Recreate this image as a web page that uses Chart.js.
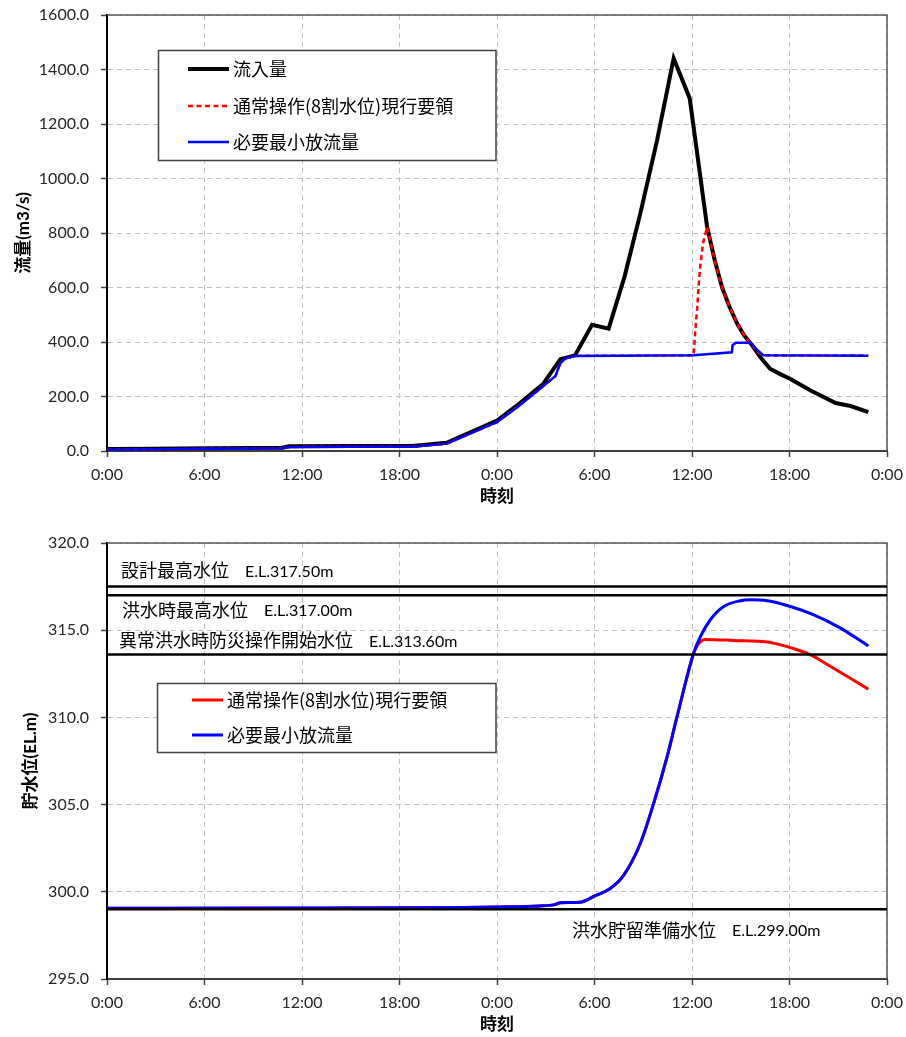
<!DOCTYPE html>
<html lang="ja">
<head>
<meta charset="utf-8">
<title>流量・貯水位</title>
<script src="https://cdn.jsdelivr.net/npm/chart.js@4.4.1/dist/chart.umd.min.js"></script>
<style>
  html, body { margin: 0; padding: 0; background: #fff; }
  #wrap { position: relative; width: 906px; height: 1037px; }
  canvas { position: absolute; left: 0; }
  #flowChart { top: 0; }
  #levelChart { top: 520px; }
</style>
</head>
<body>
<div id="wrap">
  <canvas id="flowChart" width="906" height="520"></canvas>
  <canvas id="levelChart" width="906" height="517"></canvas>
</div>
<script>
// ---- data (time in hours from the first 0:00) ----
const timeLabels = ['0:00', '6:00', '12:00', '18:00', '0:00', '6:00', '12:00', '18:00', '0:00'];
const timeStep = 6;

const flowTicks = [0, 200, 400, 600, 800, 1000, 1200, 1400, 1600];
const levelTicks = [295, 300, 305, 310, 315, 320];

// 流入量
const inflowT = [0, 3, 6, 9, 10.8, 11.2, 15, 18.8, 20.9, 24.0, 25.4, 26.85, 27.9, 28.8,
  29.85, 30.87, 31.85, 32.82, 33.85, 34.87, 35.86, 36.93, 37.4, 37.85, 38.3, 38.78, 39.2,
  39.7, 40.2, 40.8, 41.4, 42.06, 43.3, 44.84, 45.76, 46.85];
const inflowQ = [7, 8, 10, 11, 12, 17, 18, 18, 30, 112, 175, 247, 337, 351,
  463, 449, 640, 872, 1140, 1441, 1294, 822, 700, 600, 530, 468, 425,
  388, 345, 302, 283, 264, 222, 176, 165, 143];

// 通常操作(8割水位)現行要領 - outflow
const normalT = [0, 3, 6, 9, 10.8, 11.2, 15, 18.8, 20.9, 24.0, 25.4, 26.85, 27.6, 27.75, 27.9, 28.2, 28.8,
  36.1, 36.2, 36.31, 36.48, 36.68, 36.93, 37.4, 37.85, 38.3, 38.78, 39.2, 39.7, 40.0, 40.4, 46.85];
const normalQ = [5, 6, 8, 9, 10, 15, 16, 16, 27, 106, 168, 238, 275, 300, 322, 340, 349,
  351, 440, 517, 664, 762, 822, 700, 600, 530, 468, 425, 388, 365, 351, 350];

// 必要最小放流量 - outflow
const minRelT = [0, 3, 6, 9, 10.8, 11.2, 15, 18.8, 20.9, 24.0, 25.4, 26.85, 27.6, 27.75, 27.9, 28.2, 28.8,
  36.1, 38.45, 38.5, 38.7, 39.6, 40.0, 40.4, 46.85];
const minRelQ = [5, 6, 8, 9, 10, 15, 16, 16, 27, 106, 168, 238, 275, 300, 322, 340, 349,
  351, 362, 388, 397, 397, 372, 351, 350];

// 貯水位 - 必要最小放流量
const minRelLevelT = [0, 12, 18, 22, 24, 26.6, 27.5, 27.9, 29.1, 30.05, 30.97, 31.79, 32.82, 33.64,
  34.47, 35.08, 36.1, 36.52, 37.13, 37.95, 38.98, 39.6, 40.63, 42.06, 43.5, 45.14, 46.85];
const minRelLevelH = [299.06, 299.07, 299.08, 299.1, 299.13, 299.19, 299.25, 299.37, 299.4, 299.78, 300.19, 300.94, 302.77, 305.07,
  307.75, 310.04, 313.68, 314.64, 315.6, 316.36, 316.69, 316.74, 316.69, 316.36, 315.88, 315.12, 314.1];

// 貯水位 - 通常操作
const normalLevelT = [0, 12, 18, 22, 24, 26.6, 27.5, 27.9, 29.1, 30.05, 30.97, 31.79, 32.82, 33.64,
  34.47, 35.08, 36.1, 36.35, 36.6, 36.83, 38.57, 40.63, 41.45, 42.06, 43.3, 44.53, 46.85];
const normalLevelH = [299.06, 299.07, 299.08, 299.1, 299.13, 299.19, 299.25, 299.37, 299.4, 299.78, 300.19, 300.94, 302.77, 305.07,
  307.75, 310.04, 313.68, 314.15, 314.4, 314.47, 314.41, 314.32, 314.16, 314.0, 313.59, 312.92, 311.62];

// 基準水位
const refLevels = [317.5, 317.0, 313.6, 299.0];
const refNames = ['設計最高水位', '洪水時最高水位', '異常洪水時防災操作開始水位', '洪水貯留準備水位'];
const refElev = ['E.L.317.50m', 'E.L.317.00m', 'E.L.313.60m', 'E.L.299.00m'];

// ---- helpers ----
const pts = (xs, ys) => xs.map((x, i) => ({ x: x, y: ys[i] }));
const LATIN = 'Lato, "Noto Sans CJK JP", sans-serif';
const JP = '"Noto Sans CJK JP", sans-serif';

Chart.defaults.font.family = LATIN;
Chart.defaults.color = '#262626';

const timeAxis = (height, titlePad) => ({
  type: 'linear',
  min: 0,
  max: (timeLabels.length - 1) * timeStep,
  afterFit: s => {
    s.height = height;
    // keep the plot edges where the layout padding puts them
    s.paddingLeft = 0;
    s.paddingRight = 0;
  },
  ticks: {
    stepSize: timeStep,
    autoSkip: false,
    maxRotation: 0,
    padding: 8,
    font: { size: 16 },
    callback: v => timeLabels[Math.round(v / timeStep)]
  },
  grid: { color: '#c0c0c0', lineWidth: 1, tickLength: 6, tickColor: '#404040', tickWidth: 1.5 },
  border: { display: true, color: '#404040', width: 2, dash: [5, 4] },
  title: { display: true, text: '時刻', font: { size: 17, weight: 'bold' }, color: '#000', padding: { top: 0, bottom: titlePad } }
});

const valueAxis = (ticks, title, titlePad) => ({
  type: 'linear',
  min: ticks[0],
  max: ticks[ticks.length - 1],
  afterFit: s => {
    s.width = 107;
    s.paddingTop = 0;
    s.paddingBottom = 0;
  },
  ticks: {
    stepSize: ticks[1] - ticks[0],
    padding: 12,
    font: { size: 16 },
    callback: v => v.toFixed(1)
  },
  grid: { color: '#c0c0c0', lineWidth: 1, tickLength: 6, tickColor: '#404040', tickWidth: 1.5 },
  border: { display: true, color: '#000', width: 2, dash: [5, 4] },
  title: { display: true, text: title, font: { size: 17, weight: 'bold' }, color: '#000', padding: { top: titlePad, bottom: 0 } }
});

// frame, in-plot legend box and level notes
const overlay = {
  id: 'overlay',
  beforeDatasetsDraw(chart) {
    const { ctx, chartArea: a } = chart;
    ctx.save();
    ctx.strokeStyle = '#595959';
    ctx.lineWidth = 1.5;
    ctx.beginPath();
    ctx.moveTo(a.left, a.top);
    ctx.lineTo(a.right, a.top);
    ctx.lineTo(a.right, a.bottom);
    ctx.stroke();
    ctx.restore();
  },
  afterDatasetsDraw(chart, args, opts) {
    const { ctx, chartArea: a } = chart;
    const y = chart.scales.y;
    ctx.save();
    ctx.textBaseline = 'middle';
    ctx.fillStyle = '#000';

    (opts.notes || []).forEach(n => {
      const ty = y.getPixelForValue(refLevels[n.i]) + n.dy;
      const tx = a.left + n.dx;
      ctx.font = '18px ' + JP;
      ctx.fillText(refNames[n.i], tx, ty);
      const w = ctx.measureText(refNames[n.i]).width;
      ctx.font = '16px ' + LATIN;
      ctx.fillText(refElev[n.i], tx + w + 16, ty + 1);
    });

    const lg = opts.legend;
    if (lg) {
      const [bx, by, bw, bh] = lg.box;
      ctx.fillStyle = '#fff';
      ctx.fillRect(bx, by, bw, bh);
      ctx.strokeStyle = '#404040';
      ctx.lineWidth = 1.5;
      ctx.strokeRect(bx, by, bw, bh);
      lg.items.forEach((di, k) => {
        const ds = chart.data.datasets[di];
        const ry = lg.rowY[k];
        ctx.strokeStyle = ds.borderColor;
        ctx.lineWidth = ds.borderWidth;
        ctx.setLineDash(ds.borderDash || []);
        ctx.beginPath();
        ctx.moveTo(lg.sampleX[0], ry);
        ctx.lineTo(lg.sampleX[1], ry);
        ctx.stroke();
        ctx.setLineDash([]);
        ctx.fillStyle = '#000';
        ctx.font = '18px ' + JP;
        ctx.fillText(ds.label, lg.textX, ry);
      });
    }
    ctx.restore();
  }
};

const lineBase = { pointRadius: 0, fill: false, borderCapStyle: 'butt' };

// ---- upper chart: discharge ----
new Chart(document.getElementById('flowChart'), {
  type: 'line',
  data: {
    datasets: [
      { ...lineBase, label: '流入量', data: pts(inflowT, inflowQ), borderColor: '#000', borderWidth: 4, order: 2 },
      { ...lineBase, label: '通常操作(8割水位)現行要領', data: pts(normalT, normalQ), borderColor: '#ff0000', borderWidth: 2.5, borderDash: [5, 3.5], order: 1 },
      { ...lineBase, label: '必要最小放流量', data: pts(minRelT, minRelQ), borderColor: '#0000ff', borderWidth: 2.5, order: 0 }
    ]
  },
  options: {
    responsive: false,
    animation: false,
    devicePixelRatio: 1,
    parsing: false,
    layout: { padding: { left: 0, right: 19, top: 15, bottom: 0 } },
    scales: {
      x: timeAxis(69, 13),
      y: valueAxis(flowTicks, '流量(m3/s)', 13)
    },
    plugins: {
      legend: { display: false },
      tooltip: { enabled: false },
      overlay: {
        legend: { box: [158.5, 50.5, 337.5, 110], sampleX: [188, 229], textX: 233, rowY: [69, 106, 142], items: [0, 1, 2] }
      }
    }
  },
  plugins: [overlay]
});

// ---- lower chart: reservoir level ----
const refSets = refLevels.map(lv => ({
  ...lineBase,
  label: String(lv),
  data: [{ x: 0, y: lv }, { x: (timeLabels.length - 1) * timeStep, y: lv }],
  borderColor: '#000',
  borderWidth: 2.5,
  order: -1
}));

new Chart(document.getElementById('levelChart'), {
  type: 'line',
  data: {
    datasets: [
      { ...lineBase, label: '通常操作(8割水位)現行要領', data: pts(normalLevelT, normalLevelH), borderColor: '#ff0000', borderWidth: 3, cubicInterpolationMode: 'monotone', order: 1 },
      { ...lineBase, label: '必要最小放流量', data: pts(minRelLevelT, minRelLevelH), borderColor: '#0000ff', borderWidth: 3, cubicInterpolationMode: 'monotone', order: 0 },
      ...refSets
    ]
  },
  options: {
    responsive: false,
    animation: false,
    devicePixelRatio: 1,
    parsing: false,
    layout: { padding: { left: 0, right: 19, top: 23, bottom: 0 } },
    scales: {
      x: timeAxis(58, 2),
      y: valueAxis(levelTicks, '貯水位(EL.m)', 20)
    },
    plugins: {
      legend: { display: false },
      tooltip: { enabled: false },
      overlay: {
        notes: [
          { i: 0, dx: 14, dy: -16 },
          { i: 1, dx: 15, dy: 15 },
          { i: 2, dx: 12, dy: -14 },
          { i: 3, dx: 465, dy: 21 }
        ],
        legend: { box: [157.5, 683.5 - 520, 338.5, 69], sampleX: [192, 223], textX: 227, rowY: [700 - 520, 735 - 520], items: [0, 1] }
      }
    }
  },
  plugins: [overlay]
});
</script>
</body>
</html>
